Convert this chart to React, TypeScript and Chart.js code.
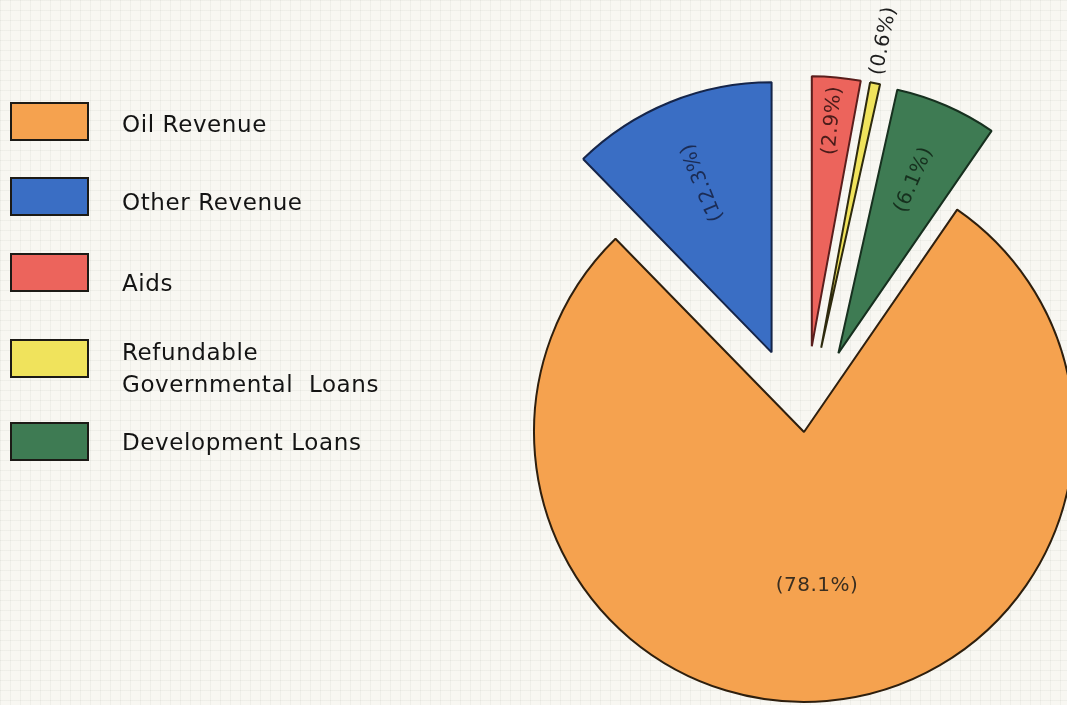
import React, { useEffect, useRef } from "react";
import { Chart, registerables } from "chart.js";

Chart.register(...registerables);

// ---- data ----
const categories = [
  "Oil Revenue",
  "Other Revenue",
  "Aids",
  "Refundable Governmental Loans",
  "Development Loans",
];
const legendLines = [
  ["Oil Revenue"],
  ["Other Revenue"],
  ["Aids"],
  ["Refundable", "Governmental  Loans"],
  ["Development Loans"],
];
const shares = [78.1, 12.3, 2.9, 0.6, 6.1];

// ---- style ----
const fillColors = ["#F5A24F", "#3A6EC4", "#EC645C", "#F0E35C", "#3E7B53"];
const borderColors = ["#2E1F0E", "#15254A", "#5A1E1C", "#2E2A0E", "#17301F"];
const labelColors = ["#3A2E20", "#1B2C55", "#4A1C1A", "#1E1E1E", "#16301E"];
const explodeDist = [0, 86, 86, 86, 86];
const labelRadiusFrac = [0.57, 0.68, 0.84, 1.16, 0.7];
const labelRadial = [false, true, true, true, true];
// legend layout: box top, text baselines
const legendBoxTop = [103, 178, 254, 340, 423];
const legendBaselines = [[131.5], [210], [290.5], [360, 391.5], [450]];

const FONT = '"DejaVu Sans", "Noto Sans", sans-serif';

const explodePlugin = {
  id: "explodeSlices",
  afterUpdate(chart: any) {
    const meta = chart.getDatasetMeta(0);
    meta.data.forEach((el: any, i: number) => {
      const d = explodeDist[i] || 0;
      const mid = (el.startAngle + el.endAngle) / 2;
      el.x += Math.cos(mid) * d;
      el.y += Math.sin(mid) * d;
    });
  },
};

const sliceLabelPlugin = {
  id: "sliceLabels",
  afterDatasetsDraw(chart: any) {
    const ctx = chart.ctx as CanvasRenderingContext2D;
    const meta = chart.getDatasetMeta(0);
    const values = chart.data.datasets[0].data as number[];
    meta.data.forEach((el: any, i: number) => {
      const mid = (el.startAngle + el.endAngle) / 2;
      const r = el.outerRadius * labelRadiusFrac[i];
      const x = el.x + Math.cos(mid) * r;
      const y = el.y + Math.sin(mid) * r;
      ctx.save();
      ctx.font = `20px ${FONT}`;
      (ctx as any).letterSpacing = "0.5px";
      ctx.fillStyle = labelColors[i];
      ctx.textAlign = "center";
      ctx.textBaseline = "middle";
      ctx.translate(x, y);
      if (labelRadial[i]) ctx.rotate(mid);
      ctx.fillText(`(${values[i].toFixed(1)}%)`, 0, 0);
      ctx.restore();
    });
  },
};

const legendPlugin = {
  id: "sideLegend",
  afterDraw(chart: any) {
    const ctx = chart.ctx as CanvasRenderingContext2D;
    const ds = chart.data.datasets[0];
    ctx.save();
    chart.data.labels.forEach((_: string, i: number) => {
      const top = legendBoxTop[i];
      ctx.fillStyle = ds.backgroundColor[i];
      ctx.fillRect(11, top, 77, 37);
      ctx.lineWidth = 2;
      ctx.strokeStyle = "#1c1a16";
      ctx.strokeRect(11, top, 77, 37);
      ctx.font = `23px ${FONT}`;
      (ctx as any).letterSpacing = "0.6px";
      ctx.fillStyle = "#141414";
      ctx.textAlign = "left";
      ctx.textBaseline = "alphabetic";
      legendLines[i].forEach((line, j) => {
        ctx.fillText(line, 122, legendBaselines[i][j]);
      });
    });
    ctx.restore();
  },
};

export default function App() {
  const canvasRef = useRef<HTMLCanvasElement | null>(null);

  useEffect(() => {
    if (!canvasRef.current) return;
    const chart = new Chart(canvasRef.current, {
      type: "pie",
      data: {
        labels: categories,
        datasets: [
          {
            data: shares,
            backgroundColor: fillColors,
            borderColor: borderColors,
            borderWidth: 2,
            radius: 270,
            clip: false,
          } as any,
        ],
      },
      options: {
        responsive: false,
        animation: false,
        events: [],
        rotation: 34.56,
        layout: { padding: { left: 541, right: 0, top: 159, bottom: 0 } },
        plugins: {
          legend: { display: false },
          tooltip: { enabled: false },
          title: { display: false },
        },
      },
      plugins: [explodePlugin, sliceLabelPlugin, legendPlugin],
    });
    return () => chart.destroy();
  }, []);

  return (
    <div
      style={{
        position: "fixed",
        left: 0,
        top: 0,
        width: 1067,
        height: 705,
        overflow: "hidden",
        backgroundColor: "#f8f7f2",
        backgroundImage:
          "linear-gradient(rgba(120,120,110,0.07) 1px, transparent 1px), linear-gradient(90deg, rgba(120,120,110,0.07) 1px, transparent 1px)",
        backgroundSize: "10px 10px",
      }}
    >
      <canvas ref={canvasRef} width={1067} height={705} style={{ display: "block" }} />
    </div>
  );
}
